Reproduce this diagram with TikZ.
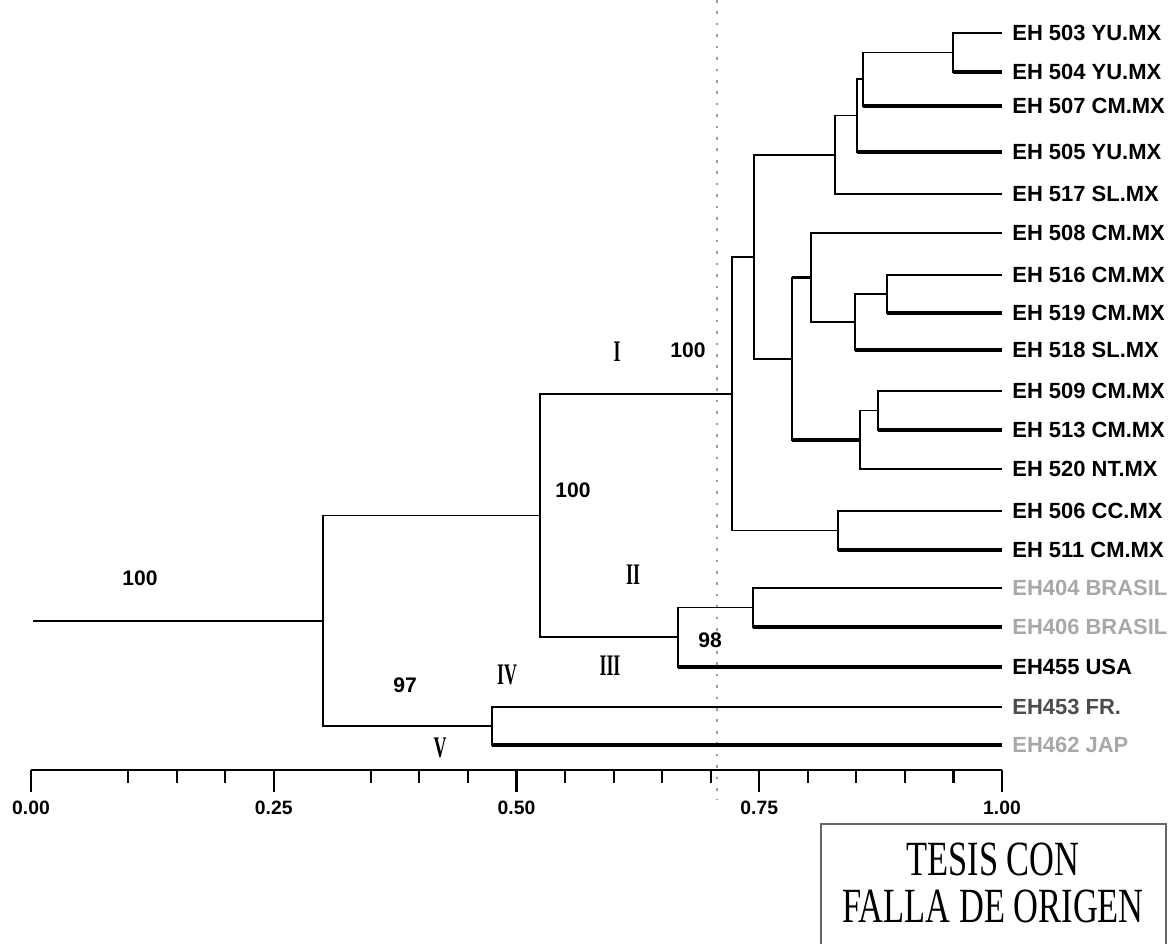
\documentclass[tikz,border=0pt]{standalone}
\usepackage{fontspec}
\setmainfont{Liberation Sans}
\newfontfamily\stampfont[FakeStretch=0.7]{Liberation Serif}
\newfontfamily\romfont[FakeStretch=0.6]{Liberation Serif}
\usetikzlibrary{calc}
\definecolor{dendgray}{HTML}{9A9A9A}
\definecolor{fadegray}{HTML}{A8A8A8}

\begin{document}
\begin{tikzpicture}[x=0.02cm,y=-0.02cm,line join=miter,
    br/.style={line width=0.8pt},
    leaf/.style={anchor=west,inner sep=0pt,font=\fontsize{12.5}{14}\selectfont\bfseries},
    boot/.style={inner sep=0pt,font=\fontsize{12}{14}\selectfont\bfseries},
    clade/.style={inner sep=0pt,font=\romfont\fontsize{17}{17}\selectfont\bfseries},
    axlab/.style={inner sep=0pt,font=\fontsize{11}{12}\selectfont\bfseries}]
  \useasboundingbox (0,0) rectangle (1176,944);
  % cut-off line
  \draw[dendgray,line width=1pt,dash pattern=on 1.5pt off 5pt] (717,0) -- (717,800);
  % leaves
  \foreach \n/\y/\c/\t in {503/33/black/{EH 503 YU.MX},504/72/black/{EH 504 YU.MX},
      507/106/black/{EH 507 CM.MX},505/152/black/{EH 505 YU.MX},517/194/black/{EH 517 SL.MX},
      508/233/black/{EH 508 CM.MX},516/275/black/{EH 516 CM.MX},519/313/black/{EH 519 CM.MX},
      518/350/black/{EH 518 SL.MX},509/391/black/{EH 509 CM.MX},513/430/black/{EH 513 CM.MX},
      520/469/black/{EH 520 NT.MX},506/511/black/{EH 506 CC.MX},511/550/black/{EH 511 CM.MX},
      404/588/fadegray/{EH404 BRASIL},406/627/fadegray/{EH406 BRASIL},455/667/black/{EH455 USA},
      453/707/black!70/{EH453 FR.},462/745/fadegray/{EH462 JAP}}{
    \coordinate (l\n) at (1002,\y);
    \node[leaf,text=\c] (t\n) at (1012,\y) {\t};
  }
  % clusters
  \foreach \n/\x/\y in {A/953/52.5,B/863/79,C/857/115.5,D/835/155,I/887/294,H/855/322,
      F/811/277.5,K/878/410.5,J/860/440,G/792/359,E/754/257,M/838/530.5,L/732/394,
      R/753/607.5,O/678/637,N/540/515.5,Q/492/726,P/323/621}
    \coordinate (n\n) at (\x,\y);
  \coordinate (root) at (33,621);
  \foreach \p/\c/\w in {nA/l503/0.8pt,nA/l504/2.2pt,nB/nA/0.8pt,nB/l507/2.2pt,
      nC/nB/0.8pt,nC/l505/2.2pt,nD/nC/0.8pt,nD/l517/0.8pt,nI/l516/0.8pt,nI/l519/2.2pt,
      nH/nI/0.8pt,nH/l518/2.2pt,nF/l508/0.8pt,nF/nH/0.8pt,nK/l509/0.8pt,nK/l513/2.2pt,
      nJ/nK/0.8pt,nJ/l520/0.8pt,nG/nF/2pt,nG/nJ/2.2pt,nE/nD/0.8pt,nE/nG/0.8pt,
      nM/l506/0.8pt,nM/l511/2.2pt,nL/nE/0.8pt,nL/nM/0.8pt,nR/l404/1.2pt,nR/l406/2.2pt,
      nO/nR/1pt,nO/l455/2.2pt,nN/nL/1.4pt,nN/nO/0.8pt,nQ/l453/0.8pt,nQ/l462/2.2pt,
      nP/nN/0.8pt,nP/nQ/1.4pt}{
    \draw[br] (\p) |- (\c);
    \draw[line width=\w] (\p |- \c) -- (\c);
  }
  \draw[line width=1.2pt] (root) -- (nP);
  % bootstrap values and groups
  \node[boot] (b1) at (140,578) {100};
  \node[boot] (b2) at (573,490) {100};
  \node[boot] (b3) at (688,350) {100};
  \node[boot] (b4) at (710,640) {98};
  \node[boot] (b5) at (405,685) {97};
  \node[clade] (g1) at (617,352) {I};
  \node[clade] (g2) at (633,575) {II};
  \node[clade] (g3) at (610,666) {III};
  \node[clade] (g4) at (507,675) {IV};
  \node[clade] (g5) at (440,748) {V};
  % axis
  \coordinate (ax0) at (31,770);
  \coordinate (ax1) at (1002,770);
  \draw[line width=1.2pt] (ax0) -- (ax1);
  \foreach \v in {0.10,0.15,0.20,0.35,0.40,0.45,0.55,0.60,0.65,0.70,0.80,0.85,0.90,0.95}
    \draw[line width=1.2pt] ($(ax0)!\v!(ax1)$) -- ++(0,13);
  \foreach \v/\t in {0/0.00,0.25/0.25,0.5/0.50,0.75/0.75,1/1.00}{
    \draw[line width=1.2pt] ($(ax0)!\v!(ax1)$) -- ++(0,22);
    \node[axlab] (a\v) at ($(ax0)!\v!(ax1)+(0,38)$) {\t};
  }
  % stamp
  \draw[line width=0.6pt,black!60] (821,944) -- (821,824) -- (1166,824) -- (1166,944);
  \node[font=\stampfont\fontsize{28}{30}\selectfont] (st1) at (993,859) {TESIS CON};
  \node[font=\stampfont\fontsize{28}{30}\selectfont] (st2) at (993,906) {FALLA DE ORIGEN};
\end{tikzpicture}
\end{document}
